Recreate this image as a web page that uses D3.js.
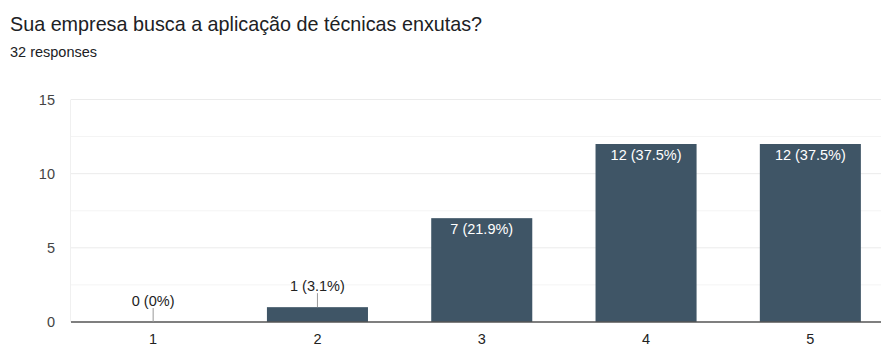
<!DOCTYPE html>
<html><head><meta charset="utf-8">
<script src="https://cdn.jsdelivr.net/npm/d3@7"></script>
<style>body{margin:0;background:#fff;font-family:"Liberation Sans",Arial,sans-serif;}</style>
</head><body>
<svg id="c" width="881" height="344"></svg>
<script>
const categories = ["1","2","3","4","5"];
const values = [0, 1, 7, 12, 12];
const labels = ["0 (0%)","1 (3.1%)","7 (21.9%)","12 (37.5%)","12 (37.5%)"];
const yTicks = [0,5,10,15];
const yMinor = [2.5,7.5,12.5];
const FF = '"Liberation Sans",Arial,sans-serif';

const svg = d3.select("#c").attr("font-family", FF);
const x = d3.scaleBand().domain(categories).range([71, 892.5]).paddingInner(0.385).paddingOuter(0.1925);
const y = d3.scaleLinear().domain([0,15]).range([322, 99.5]);

svg.append("text").attr("x",10).attr("y",31).attr("font-size","19.75px").attr("fill","#202124")
  .text("Sua empresa busca a aplicação de técnicas enxutas?");
svg.append("text").attr("x",10).attr("y",56.5).attr("font-size","14.5px").attr("fill","#202124")
  .text("32 responses");

// minor grid
svg.selectAll(".mg").data(yMinor).join("line")
  .attr("x1",71).attr("x2",881).attr("y1",d=>y(d)).attr("y2",d=>y(d))
  .attr("stroke","#f4f4f4").attr("stroke-width",1);
// major grid
svg.selectAll(".g").data(yTicks.filter(d=>d>0)).join("line")
  .attr("x1",71).attr("x2",881).attr("y1",d=>y(d)).attr("y2",d=>y(d))
  .attr("stroke","#ebebeb").attr("stroke-width",1);
svg.append("line").attr("x1",70.5).attr("x2",70.5).attr("y1",y(15)).attr("y2",y(0)).attr("stroke","#f0f0f0");

// y labels
const yAxis = d3.axisLeft(y).tickValues(yTicks).tickSize(0).tickPadding(0);
const ya = svg.append("g").attr("transform","translate(55,0)").call(yAxis);
ya.select(".domain").remove();
ya.selectAll("text").attr("font-size","14.5px").attr("fill","#444").attr("font-family",FF);

// bars
svg.selectAll(".bar").data(values).join("rect")
  .attr("x",(d,i)=>x(categories[i])).attr("width",x.bandwidth())
  .attr("y",d=>y(d)).attr("height",d=>y(0)-y(d)).attr("fill","#3f5566");

// baseline axis
const xAxis = d3.axisBottom(x).tickSize(0).tickPadding(12);
const xa = svg.append("g").attr("transform",`translate(0,${y(0)})`).call(xAxis);
xa.select(".domain").attr("stroke","#555").attr("stroke-width",1.5).attr("d","M71,0H881");
xa.selectAll("text").attr("font-size","14.5px").attr("fill","#222").attr("font-family",FF);

// value labels
values.forEach((v,i)=>{
  const cx = x(categories[i]) + x.bandwidth()/2;
  if (v >= 3) {
    svg.append("text").attr("x",cx).attr("y",y(v)+16).attr("text-anchor","middle")
      .attr("font-size","14.5px").attr("fill","#fff").text(labels[i]);
  } else {
    svg.append("line").attr("x1",cx).attr("x2",cx).attr("y1",y(v)-14).attr("y2",y(v))
      .attr("stroke","#999").attr("stroke-width",1);
    svg.append("text").attr("x",cx).attr("y",y(v)-16).attr("text-anchor","middle")
      .attr("font-size","14.5px").attr("fill","#222").text(labels[i]);
  }
});
</script>
</body></html>
